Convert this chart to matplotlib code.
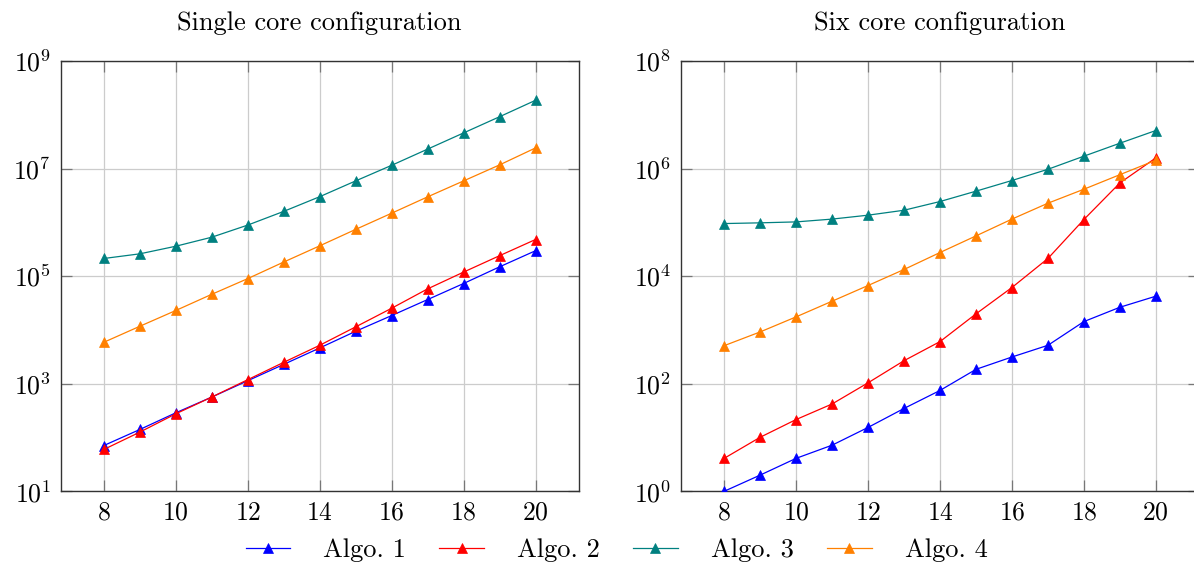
import matplotlib
matplotlib.use("Agg")
import matplotlib.pyplot as plt
from matplotlib.ticker import FixedLocator, NullLocator, LogFormatterMathtext

plt.rcParams['font.family'] = ['cmr10']
plt.rcParams['mathtext.fontset'] = 'cm'
plt.rcParams['axes.formatter.use_mathtext'] = True

x = [8, 9, 10, 11, 12, 13, 14, 15, 16, 17, 18, 19, 20]

single_algo1 = [71, 141, 288, 565, 1137, 2290, 4620, 9440, 1.85e4, 3.67e4, 7.3e4, 1.49e5, 2.97e5]
single_algo2 = [60, 126, 276, 565, 1190, 2500, 5180, 1.14e4, 2.53e4, 5.8e4, 1.19e5, 2.4e5, 4.8e5]
single_algo3 = [2.13e5, 2.6e5, 3.6e5, 5.3e5, 8.9e5, 1.6e6, 3.0e6, 5.9e6, 1.15e7, 2.3e7, 4.6e7, 9.2e7, 1.86e8]
single_algo4 = [5.9e3, 1.17e4, 2.3e4, 4.6e4, 9.0e4, 1.83e5, 3.66e5, 7.4e5, 1.48e6, 2.98e6, 5.9e6, 1.17e7, 2.42e7]

six_algo1 = [1.0, 2.0, 4.1, 7.2, 15.4, 34.7, 75, 185, 314, 518, 1430, 2640, 4240]
six_algo2 = [4.1, 10.1, 21.6, 42, 104, 268, 607, 1990, 6150, 2.13e4, 1.13e5, 5.4e5, 1.58e6]
six_algo3 = [9.5e4, 9.8e4, 1.02e5, 1.15e5, 1.36e5, 1.68e5, 2.44e5, 3.8e5, 6.0e5, 9.7e5, 1.7e6, 2.96e6, 5.1e6]
six_algo4 = [510, 918, 1750, 3420, 6700, 1.33e4, 2.75e4, 5.6e4, 1.15e5, 2.27e5, 4.13e5, 7.7e5, 1.43e6]

labels = ["Algo. 1", "Algo. 2", "Algo. 3", "Algo. 4"]
colors = ["#0000ff", "#ff0000", "#008080", "#ff8000"]
titles = ["Single core configuration", "Six core configuration"]
xticks = [8, 10, 12, 14, 16, 18, 20]
yticks_left = [1e1, 1e3, 1e5, 1e7, 1e9]
yticks_right = [1e0, 1e2, 1e4, 1e6, 1e8]

W, H = 1194, 565
fig = plt.figure(figsize=(W / 100, H / 100), dpi=100)

ax_l = fig.add_axes([60.7 / W, 1 - 491.3 / H, 518 / W, 430.3 / H])
ax_r = fig.add_axes([681 / W, 1 - 491.3 / H, 518 / W, 430.3 / H])

series = [
    (ax_l, [single_algo1, single_algo2, single_algo3, single_algo4], yticks_left, titles[0]),
    (ax_r, [six_algo1, six_algo2, six_algo3, six_algo4], yticks_right, titles[1]),
]

handles = []
for ax, ys, yt, title in series:
    ax.set_yscale('log')
    hs = []
    for yv, c, lab in zip(ys, colors, labels):
        h, = ax.plot(x, yv, color=c, lw=0.9, marker='^', markersize=7,
                     markeredgewidth=0.5, markeredgecolor=c, label=lab, zorder=3)
        hs.append(h)
    handles = hs
    ax.set_xlim(6.8, 21.2)
    ax.set_ylim(yt[0], yt[-1])
    ax.xaxis.set_major_locator(FixedLocator(xticks))
    ax.yaxis.set_major_locator(FixedLocator(yt))
    ax.yaxis.set_major_formatter(LogFormatterMathtext())
    ax.yaxis.set_minor_locator(NullLocator())
    ax.xaxis.set_minor_locator(NullLocator())
    ax.grid(True, color='#cccccc', lw=0.9, zorder=0)
    ax.set_axisbelow(True)
    ax.tick_params(direction='in', length=8, width=0.9, color='#777777',
                   top=True, right=True, labelsize=18.5, pad=7)
    for sp in ax.spines.values():
        sp.set_color('#333333')
        sp.set_linewidth(1.0)
    ax.set_title(title, fontsize=19, pad=22)

fig.legend(handles, labels, loc='center', bbox_to_anchor=(616.5 / W, 1 - 550 / H),
           ncol=4, frameon=False, fontsize=19, handlelength=1.7,
           handletextpad=1.25, columnspacing=1.25, borderpad=0.1)

fig.savefig("out.png", dpi=100)
